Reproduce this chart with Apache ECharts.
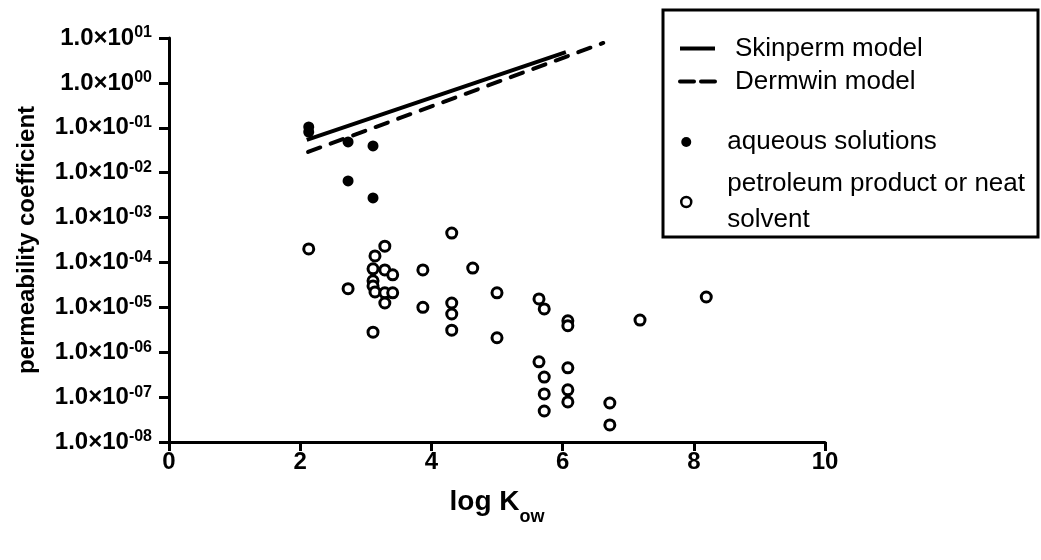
<!DOCTYPE html>
<html>
<head>
<meta charset="utf-8">
<script src="https://cdn.jsdelivr.net/npm/echarts@6/dist/echarts.min.js"></script>
<style>
	html, body { margin: 0; padding: 0; background: #fff; }
	#permeabilityChart { width: 1041px; height: 560px; }
</style>
</head>
<body>
<div id="permeabilityChart"></div>
<script>
// model lines (log Kow, permeability coefficient)
var skinpermKow = [2.10, 6.05];
var skinpermKp = [0.0535, 4.87];
var dermwinKow = [2.12, 6.62];
var dermwinKp = [0.0289, 7.74];

// measured, aqueous solutions
var aqueousKow = [2.13, 2.13, 2.73, 3.11, 2.73, 3.11];
var aqueousKp = [0.104, 0.0805, 0.0483, 0.0394, 0.00653, 0.00274];

// measured, petroleum product or neat solvent
var neatKow = [2.13, 2.73, 3.11, 3.29, 3.14, 3.11, 3.29, 3.41, 3.11, 3.11,
	3.14, 3.29, 3.41, 3.29, 3.87, 3.87, 4.31, 4.31, 4.31, 4.31,
	4.63, 5.00, 5.00, 5.64, 5.72, 6.08, 6.08, 7.18, 8.19, 5.64,
	5.72, 5.72, 5.72, 6.08, 6.08, 6.08, 6.72, 6.72];
var neatKp = [2.0e-4, 2.6e-5, 2.8e-6, 2.3e-4, 1.4e-4, 7.2e-5, 6.8e-5, 5.3e-5, 3.9e-5, 3.0e-5,
	2.2e-5, 2.1e-5, 2.1e-5, 1.25e-5, 6.8e-5, 1.0e-5, 4.5e-4, 1.25e-5, 7.1e-6, 3.1e-6,
	7.5e-5, 2.1e-5, 2.1e-6, 1.54e-5, 9.2e-6, 5.0e-6, 3.9e-6, 5.2e-6, 1.7e-5, 6.1e-7,
	2.8e-7, 1.18e-7, 4.9e-8, 4.5e-7, 1.45e-7, 7.8e-8, 7.4e-8, 2.4e-8];

var xTicks = [0, 2, 4, 6, 8, 10];

initChart();

function pairs(xs, ys) {
	var out = [];
	for (var i = 0; i < xs.length; i++) {
		out.push([xs[i], ys[i]]);
	}
	return out;
}

// 1.0x10^-05 style labels
function powerLabel(value) {
	var exp = Math.round(Math.log10(value));
	var digits = String(Math.abs(exp));
	if (digits.length < 2) digits = '0' + digits;
	return '{b|1.0\u00d710}{s|' + (exp < 0 ? '-' : '') + digits + '}';
}

function initChart() {
	var font = '"Liberation Sans", Arial, sans-serif';
	var chart = echarts.init(document.getElementById('permeabilityChart'));

	var option = {
		backgroundColor: '#fff',
		animation: false,
		grid: { left: 169, right: 216, top: 38, bottom: 118 },
		graphic: [{
			type: 'rect',
			shape: { x: 663, y: 10, width: 375, height: 227 },
			style: { fill: 'none', stroke: '#000', lineWidth: 3 }
		}],
		legend: [{
			orient: 'vertical',
			left: 673,
			top: 27,
			itemWidth: 35,
			itemHeight: 14,
			itemGap: 0,
			data: [
				{ name: 'Skinperm model', itemStyle: { opacity: 0 },
					lineStyle: { color: '#000', width: 4, type: 'solid' } },
				{ name: 'Dermwin model', itemStyle: { opacity: 0 },
					lineStyle: { color: '#000', width: 4, type: [14, 7] } }
			],
			textStyle: { fontFamily: font, fontSize: 26, color: '#000', lineHeight: 33, padding: [0, 0, 0, 15] }
		}, {
			orient: 'vertical',
			left: 675,
			top: 119,
			itemWidth: 10,
			itemHeight: 10,
			itemGap: 6,
			data: [
				{ name: 'aqueous solutions', icon: 'circle', itemStyle: { color: '#000', borderWidth: 0 } },
				{ name: 'petroleum product or neat\nsolvent', icon: 'circle',
					itemStyle: { color: '#fff', borderColor: '#000', borderWidth: 2.5 } }
			],
			textStyle: { fontFamily: font, fontSize: 26, color: '#000', lineHeight: 36, padding: [0, 0, 0, 31] }
		}],
		xAxis: {
			type: 'value',
			min: xTicks[0],
			max: xTicks[xTicks.length - 1],
			interval: 2,
			name: '{a|log K}{sub|ow}',
			nameLocation: 'middle',
			nameGap: 44,
			nameTextStyle: {
				rich: {
					a: { fontFamily: font, fontWeight: 'bold', fontSize: 28, color: '#000', lineHeight: 32 },
					sub: { fontFamily: font, fontWeight: 'bold', fontSize: 18, color: '#000', verticalAlign: 'bottom', lineHeight: 20, padding: [0, 0, -8, 0] }
				}
			},
			axisLine: { lineStyle: { color: '#000', width: 3 } },
			axisTick: { length: 9, lineStyle: { color: '#000', width: 3 } },
			axisLabel: { fontFamily: font, fontWeight: 'bold', fontSize: 24, color: '#000', margin: 8 },
			splitLine: { show: false }
		},
		yAxis: {
			type: 'log',
			logBase: 10,
			min: 1e-8,
			max: 10,
			interval: 1,
			name: 'permeability coefficient',
			nameLocation: 'middle',
			nameGap: 130,
			nameTextStyle: { fontFamily: font, fontWeight: 'bold', fontSize: 24, color: '#000' },
			axisLine: { lineStyle: { color: '#000', width: 3 } },
			axisTick: { length: 10, lineStyle: { color: '#000', width: 3 } },
			axisLabel: {
				margin: 17,
				formatter: powerLabel,
				rich: {
					b: { fontFamily: font, fontWeight: 'bold', fontSize: 24, color: '#000', lineHeight: 26 },
					s: { fontFamily: font, fontWeight: 'bold', fontSize: 16, color: '#000', verticalAlign: 'top', lineHeight: 15 }
				}
			},
			splitLine: { show: false }
		},
		series: [{
			name: 'Skinperm model',
			type: 'line',
			symbol: 'none',
			data: pairs(skinpermKow, skinpermKp),
			lineStyle: { color: '#000', width: 4 },
			itemStyle: { color: '#000' },
			z: 3
		}, {
			name: 'Dermwin model',
			type: 'line',
			symbol: 'none',
			data: pairs(dermwinKow, dermwinKp),
			lineStyle: { color: '#000', width: 4, type: [13, 11], cap: 'round' },
			itemStyle: { color: '#000' },
			z: 3
		}, {
			name: 'aqueous solutions',
			type: 'scatter',
			symbol: 'circle',
			symbolSize: 11,
			data: pairs(aqueousKow, aqueousKp),
			itemStyle: { color: '#000', opacity: 1 }
		}, {
			name: 'petroleum product or neat\nsolvent',
			type: 'scatter',
			symbol: 'circle',
			symbolSize: 10,
			data: pairs(neatKow, neatKp),
			itemStyle: { color: '#fff', borderColor: '#000', borderWidth: 3, opacity: 1 }
		}]
	};

	chart.setOption(option);
}
</script>
</body>
</html>
